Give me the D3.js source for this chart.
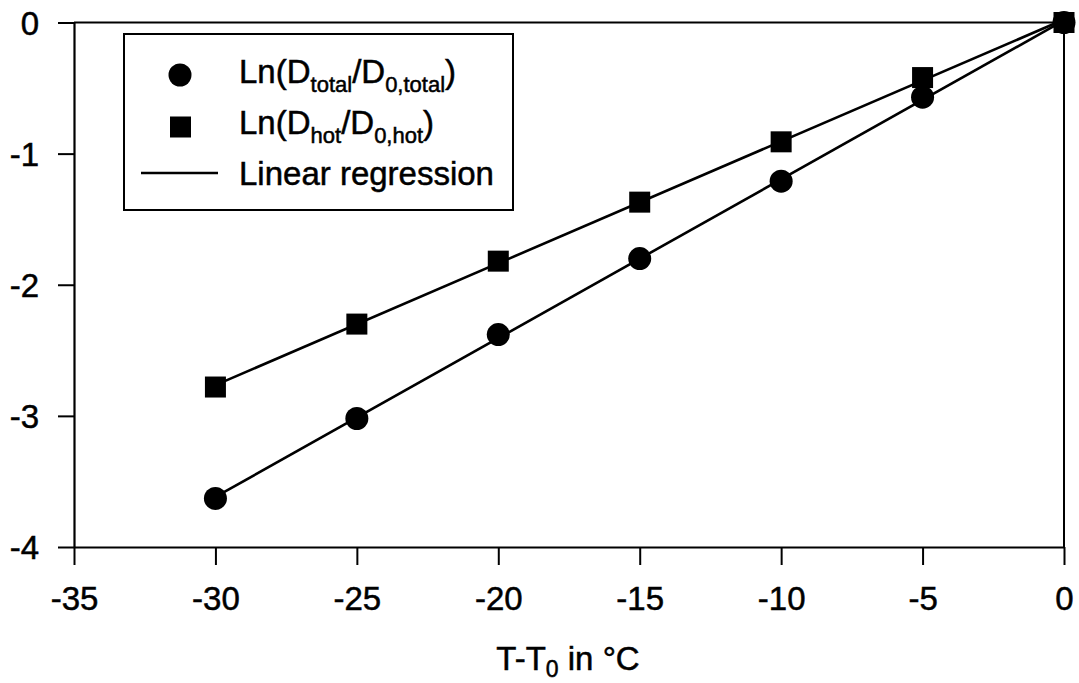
<!DOCTYPE html>
<html><head><meta charset="utf-8">
<script src="https://cdn.jsdelivr.net/npm/d3@7"></script>
<style>
html,body{margin:0;padding:0;background:#fff;}
text{font-family:"Liberation Sans",Arial,sans-serif;fill:#000;stroke:#000;stroke-width:0.5px;}
</style></head>
<body><svg id="chart" width="1079" height="683"></svg>
<script>
const xValues = [-30, -25, -20, -15, -10, -5, 0];
const totalValues = [-3.63, -3.02, -2.38, -1.80, -1.21, -0.57, 0];
const hotValues = [-2.78, -2.30, -1.82, -1.37, -0.91, -0.42, 0];
const xTicks = [-35, -30, -25, -20, -15, -10, -5, 0];
const yTicks = [0, -1, -2, -3, -4];

const svg = d3.select("#chart");
const x = d3.scaleLinear().domain([-35, 0]).range([74, 1064]);
const y = d3.scaleLinear().domain([-4, 0]).range([547, 22.5]);

function fit(xs, ys) {
  const mx = d3.mean(xs), my = d3.mean(ys);
  let sxy = 0, sxx = 0;
  xs.forEach((v, i) => { sxy += (v - mx) * (ys[i] - my); sxx += (v - mx) ** 2; });
  const b = sxy / sxx;
  return { b, a: my - b * mx };
}

// frame
svg.append("line").attr("x1", x(0)).attr("x2", x(0)).attr("y1", y(0)).attr("y2", y(-4)).attr("stroke", "#000").attr("stroke-width", 2);
svg.append("line").attr("x1", x(-35)).attr("x2", x(0)).attr("y1", y(0)).attr("y2", y(0)).attr("stroke", "#000").attr("stroke-width", 2);

// axes
const xAxis = svg.append("g").attr("transform", `translate(0,${y(-4)})`)
  .call(d3.axisBottom(x).tickValues(xTicks).tickSize(18).tickSizeOuter(0).tickFormat(d3.format("d")));
const yAxis = svg.append("g").attr("transform", `translate(${x(-35)},0)`)
  .call(d3.axisLeft(y).tickValues(yTicks).tickSize(16).tickSizeOuter(0).tickFormat(d3.format("d")));
[xAxis, yAxis].forEach(g => {
  g.select(".domain").attr("stroke-width", 2.2);
  g.selectAll(".tick line").attr("stroke-width", 2);
  g.selectAll("text").style("font-size", "33px").style("font-family", "'Liberation Sans', Arial, sans-serif")
    .attr("fill", "#000").attr("stroke", "#000").attr("stroke-width", 0.5);
});
xAxis.selectAll("text").attr("dy", null).attr("y", 63);
yAxis.selectAll("text").attr("x", -35).attr("dy", "0.36em");
xAxis.selectAll(".tick text").text(d => String(d).replace("−", "-"));
yAxis.selectAll(".tick text").text(d => String(d).replace("−", "-"));

// regression lines
[totalValues, hotValues].forEach(vals => {
  const f = fit(xValues, vals);
  svg.append("line")
    .attr("x1", x(-30)).attr("y1", y(f.a + f.b * -30))
    .attr("x2", x(0)).attr("y2", y(f.a))
    .attr("stroke", "#000").attr("stroke-width", 2.6);
});

// markers
svg.selectAll("circle.total").data(xValues).enter().append("circle")
  .attr("cx", d => x(d)).attr("cy", (d, i) => y(totalValues[i])).attr("r", 11.5).attr("fill", "#000");
svg.selectAll("rect.hot").data(xValues).enter().append("rect")
  .attr("x", d => x(d) - 10.5).attr("y", (d, i) => y(hotValues[i]) - 10.5)
  .attr("width", 21).attr("height", 21).attr("fill", "#000");

// x axis title
const xt = svg.append("text").attr("x", 568).attr("y", 670).attr("text-anchor", "middle").style("font-size", "33px");
xt.append("tspan").text("T-T");
xt.append("tspan").attr("dy", 7).style("font-size", "23px").text("0");
xt.append("tspan").attr("dy", -7).text(" in °C");

// legend
const lg = svg.append("g");
lg.append("rect").attr("x", 124).attr("y", 34).attr("width", 389).attr("height", 176)
  .attr("fill", "#fff").attr("stroke", "#000").attr("stroke-width", 2);
lg.append("circle").attr("cx", 180).attr("cy", 75).attr("r", 11.5).attr("fill", "#000");
lg.append("rect").attr("x", 170).attr("y", 116.5).attr("width", 21).attr("height", 21).attr("fill", "#000");
lg.append("line").attr("x1", 141).attr("x2", 218).attr("y1", 173).attr("y2", 173).attr("stroke", "#000").attr("stroke-width", 2.6);

function legendLabel(yb, a, s1, b, s2) {
  const t = lg.append("text").attr("x", 239).attr("y", yb).style("font-size", "33px");
  t.append("tspan").text(a);
  t.append("tspan").attr("dy", 9).style("font-size", "22px").text(s1);
  t.append("tspan").attr("dy", -9).text(b);
  t.append("tspan").attr("dy", 9).style("font-size", "22px").text(s2);
  t.append("tspan").attr("dy", -9).text(")");
}
legendLabel(83, "Ln(D", "total", "/D", "0,total");
legendLabel(134, "Ln(D", "hot", "/D", "0,hot");
lg.append("text").attr("x", 239).attr("y", 185).style("font-size", "33px").text("Linear regression");
</script></body></html>
